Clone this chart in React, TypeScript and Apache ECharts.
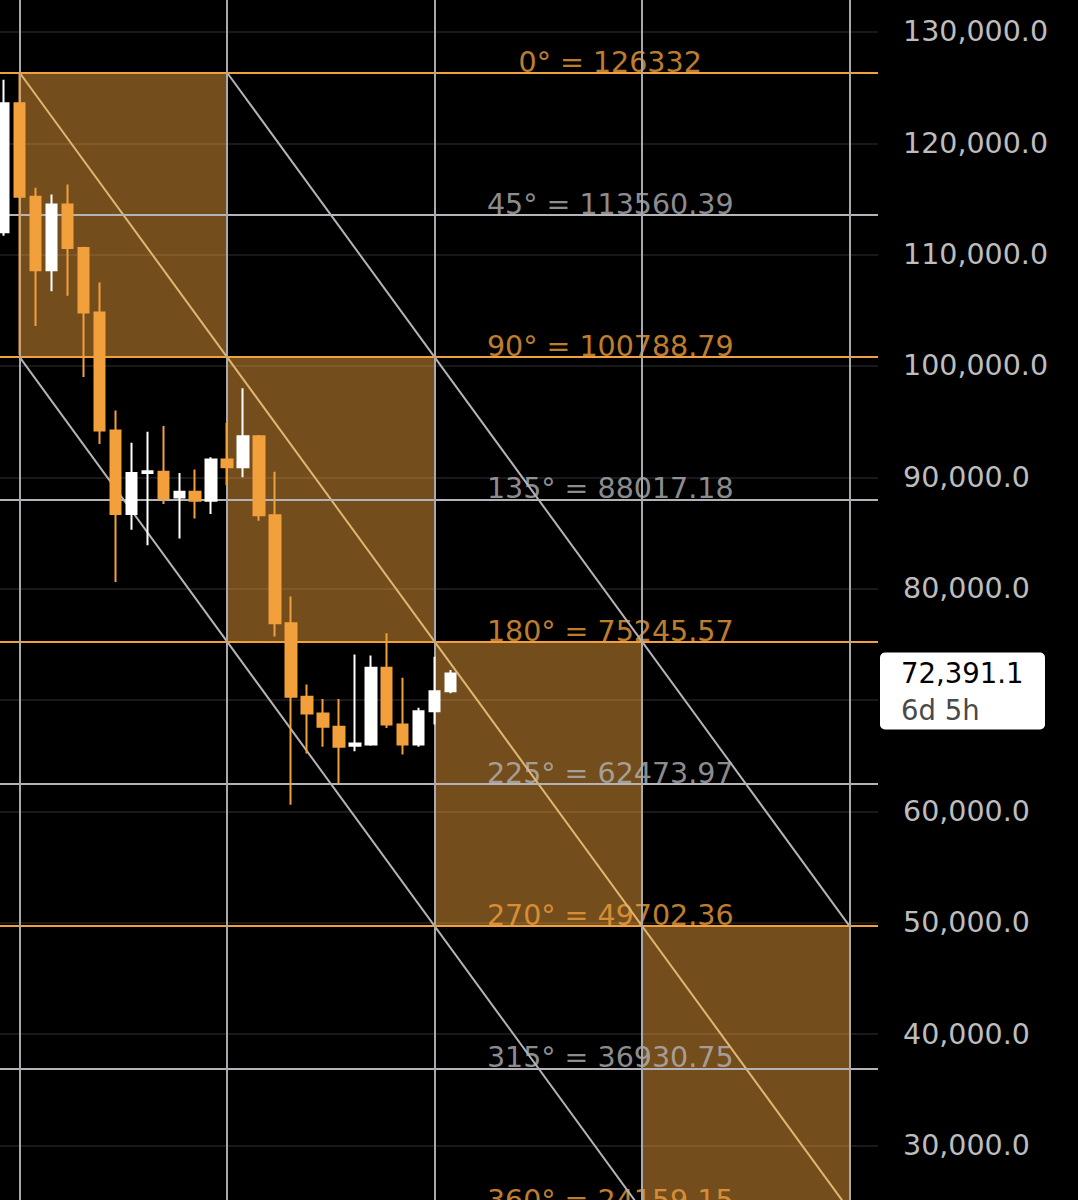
import React, { useEffect, useRef } from "react";
import * as echarts from "echarts";

// Weekly candles (index, open, close, low, high)
const candleIndex = [0, 1, 2, 3, 4, 5, 6, 7, 8, 9, 10, 11, 12, 13, 14, 15, 16, 17, 18, 19, 20, 21, 22, 23, 24, 25, 26, 27, 28];
const opens = [112000, 123600, 115200, 108600, 114500, 110600, 104800, 94200, 86700, 90400, 90500, 88200, 88700, 87900, 91600, 90900, 93700, 86600, 76900, 70300, 68800, 67600, 65900, 66000, 72900, 67800, 66000, 69000, 70800];
const closes = [123600, 115200, 108600, 114500, 110600, 104800, 94200, 86700, 90400, 90550, 88100, 88700, 87900, 91600, 90900, 93700, 86600, 76900, 70300, 68800, 67600, 65800, 66100, 72900, 67800, 66000, 69000, 70800, 72391.1];
const lows = [111700, 101000, 103600, 106700, 106300, 99000, 93000, 80600, 85300, 83900, 87600, 84500, 86300, 86700, 89300, 90000, 86100, 75700, 60600, 65200, 65800, 62500, 65400, 65900, 67500, 65100, 65800, 67800, 70600];
const highs = [125700, 126300, 116000, 115400, 116300, 110700, 107500, 96000, 93100, 94100, 94600, 90400, 90700, 91800, 94900, 98000, 93800, 90500, 79300, 71400, 70100, 70100, 74100, 74000, 76000, 72000, 69300, 73900, 72700];

// Gann levels
const angles = [0, 45, 90, 135, 180, 225, 270, 315, 360];
const levels = [126332, 113560.39, 100788.79, 88017.18, 75245.57, 62473.97, 49702.36, 36930.75, 24159.15];
const timeLines = [1, 14, 27, 40, 53];
const lastPrice = 72391.1;
const countdown = "6d 5h";

const ORANGE = "#f2a03c";
const GREY = "#b4b4b8";
const TAN = "#dfb673";
const FONT = "DejaVu Sans";
const FS = 28.5;

const fmtLevel = (v: number) => (Number.isInteger(v) ? String(v) : v.toFixed(2));

export default function App() {
  const ref = useRef<HTMLDivElement>(null);
  useEffect(() => {
    document.body.style.margin = "0";
    document.body.style.background = "#000";
    const chart = echarts.init(ref.current!, null, { renderer: "svg" });
    const candleData = candleIndex.map((k, i) => [k, opens[i], closes[i], lows[i], highs[i]]);
    const L = levels;
    const t = timeLines;
    const boxes = [0, 1, 2, 3].map((i) => [
      { coord: [t[i], L[i * 2]] },
      { coord: [t[i + 1], L[i * 2 + 2]] },
    ]);
    const diagStyle = (color: string) => ({ color, width: 2 });
    const option: any = {
      animation: false,
      backgroundColor: "#000",
      grid: { left: 0, right: 200, top: 0, bottom: 0 },
      xAxis: {
        type: "value",
        min: -0.232,
        max: 54.78,
        show: false,
        splitLine: { show: false },
      },
      yAxis: {
        type: "value",
        position: "right",
        min: 25105,
        max: 132865,
        splitNumber: 11,
        axisLine: { show: false },
        axisTick: { show: false },
        splitLine: { show: true, showMinLine: false, showMaxLine: false, lineStyle: { color: "#222222", width: 1.5 } },
        axisLabel: {
          showMinLabel: false,
          showMaxLabel: false,
          margin: 25,
          color: "#bdbdbd",
          fontSize: FS,
          fontFamily: FONT,
          formatter: (v: number) =>
            v.toLocaleString("en-US", { minimumFractionDigits: 1, maximumFractionDigits: 1 }),
        },
      },
      series: [
        {
          type: "line",
          data: [],
          z: 1,
          silent: true,
          markArea: {
            silent: true,
            itemStyle: { color: "rgba(242,160,58,0.48)" },
            data: boxes,
          },
        },
        {
          type: "scatter",
          z: 2,
          clip: false,
          symbolSize: 0,
          silent: true,
          data: levels.map((v, i) => ({
            value: [38, v],
            name: `${angles[i]}° = ${fmtLevel(v)}`,
            label: { color: i % 2 === 0 ? ORANGE : GREY },
          })),
          label: {
            show: true,
            position: "top",
            distance: -4,
            formatter: "{b}",
            fontSize: FS,
            fontFamily: FONT,
          },
        },
        {
          type: "line",
          data: [],
          z: 3,
          silent: true,
          markLine: {
            silent: true,
            symbol: ["none", "none"],
            label: { show: false },
            data: [
              ...levels.map((v, i) => ({
                yAxis: v,
                lineStyle: { color: i % 2 === 0 ? ORANGE : GREY, width: 2, type: "solid" },
              })),
              ...timeLines.map((k) => ({
                xAxis: k,
                lineStyle: { color: "#a9a9ad", width: 2, type: "solid" },
              })),
            ],
          },
        },
        {
          type: "line",
          z: 4,
          showSymbol: false,
          silent: true,
          lineStyle: diagStyle(TAN),
          data: [[t[0], L[0]], [t[4], L[8]]],
        },
        {
          type: "line",
          z: 4,
          showSymbol: false,
          silent: true,
          lineStyle: diagStyle(GREY),
          data: [[t[1], L[0]], [t[4], L[6]]],
        },
        {
          type: "line",
          z: 4,
          showSymbol: false,
          silent: true,
          lineStyle: diagStyle(GREY),
          data: [[t[0], L[2]], [t[3], L[8]]],
        },
        {
          type: "candlestick",
          z: 6,
          barWidth: 11,
          data: candleData,
          itemStyle: {
            color: "#ffffff",
            color0: ORANGE,
            borderColor: "#ffffff",
            borderColor0: ORANGE,
            borderWidth: 2,
          },
        },
      ],
    };
    chart.setOption(option);
    const py = chart.convertToPixel({ yAxisIndex: 0 }, lastPrice) as number;
    const priceText = lastPrice.toLocaleString("en-US", { minimumFractionDigits: 1 });
    const tagFs = 27.5;
    const lh = 37;
    chart.setOption({
      graphic: [
        {
          type: "rect",
          shape: { x: 880, y: py - 21, width: 165, height: 77, r: 5 },
          style: { fill: "#ffffff" },
          z: 10,
        },
        {
          type: "text",
          x: 901,
          y: py - lh / 2,
          z: 11,
          style: {
            text: `{a|${priceText}}\n{b|${countdown}}`,
            verticalAlign: "top",
            rich: {
              a: { fill: "#000000", fontSize: tagFs, fontFamily: FONT, lineHeight: lh },
              b: { fill: "#4a4a4a", fontSize: tagFs, fontFamily: FONT, lineHeight: lh },
            },
          },
        },
      ],
    });
    return () => chart.dispose();
  }, []);
  return (
    <div
      ref={ref}
      style={{ position: "absolute", left: 0, top: 0, width: 1078, height: 1200, background: "#000" }}
    />
  );
}
